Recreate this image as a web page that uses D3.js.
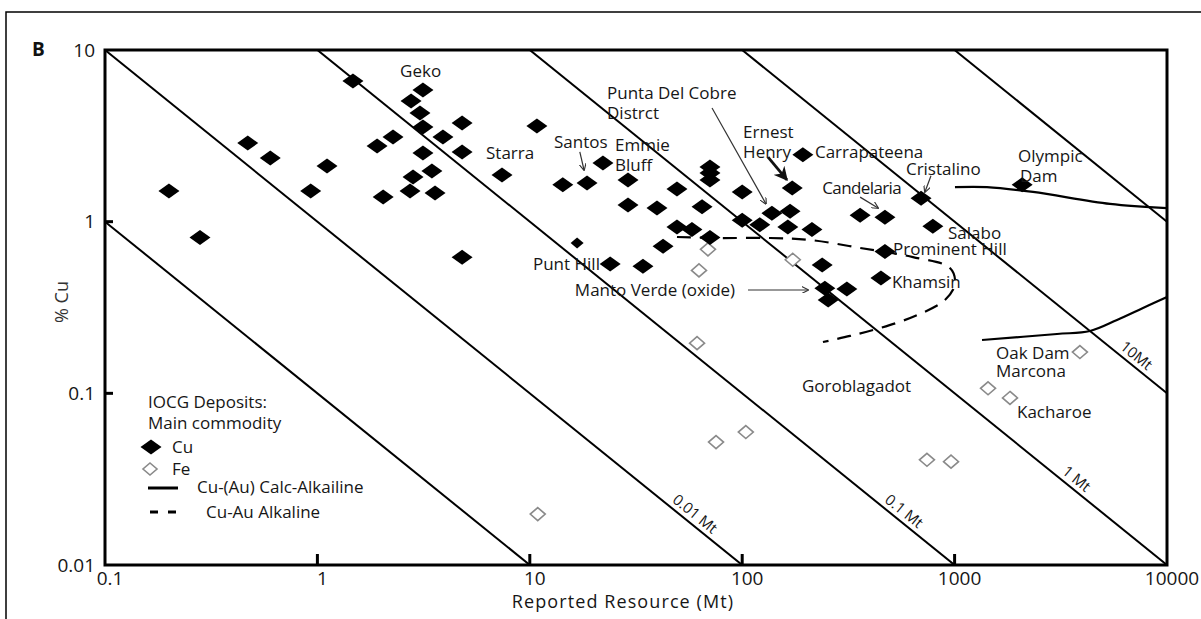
<!DOCTYPE html>
<html>
<head>
<meta charset="utf-8">
<script src="https://cdn.jsdelivr.net/npm/d3@7"></script>
<style>
  html, body { margin: 0; padding: 0; background: #fff; }
  svg { display: block; font-family: "Open Sans", sans-serif; }
</style>
</head>
<body>
<svg id="chart" width="1201" height="619"></svg>
<script>
// ---- data: [reported resource (Mt), % Cu] ----
const cuDeposits = [
  [0.2, 1.51], [0.28, 0.81], [0.47, 2.87], [0.6, 2.35], [0.93, 1.51], [1.11, 2.11],
  [1.47, 6.6], [1.91, 2.76], [2.27, 3.11], [2.04, 1.39], [2.76, 5.05], [3.14, 5.85],
  [3.04, 4.3], [3.14, 3.56], [2.82, 1.82], [2.73, 1.51], [3.9, 3.11], [4.8, 3.76],
  [3.14, 2.51], [4.8, 2.55], [3.46, 1.97], [3.58, 1.47], [10.8, 3.61], [7.4, 1.87],
  [4.8, 0.62], [14.3, 1.64], [18.6, 1.68], [22.1, 2.2], [29, 1.75], [29, 1.25],
  [39.7, 1.2], [49.3, 1.55], [23.9, 0.567], [34.1, 0.55], [42.4, 0.72], [49.3, 0.93],
  [58, 0.9], [70.5, 0.81], [64.7, 1.22], [70.5, 2.08], [70.5, 1.92], [70.5, 1.75],
  [100, 1.49], [100, 1.02], [121, 0.96], [138, 1.12], [168, 1.15], [172, 1.57],
  [164, 0.93], [213, 0.9], [193, 2.45], [238, 0.56], [245, 0.41], [311, 0.405],
  [254, 0.35], [359, 1.09], [470, 1.06], [470, 0.67], [450, 0.47], [695, 1.37],
  [790, 0.94], [2080, 1.64]
];
const cuSmall = [[16.7, 0.75]];

const feDeposits = [
  [10.9, 0.0198], [61.3, 0.196], [62.6, 0.52], [69, 0.69], [75.3, 0.052], [104, 0.0595],
  [173, 0.6], [741, 0.041], [962, 0.04], [1437, 0.107], [1823, 0.094], [3890, 0.174]
];

// Cu-(Au) calc-alkaline field outline (two branches)
const calcAlkalineUpper = [[1004, 1.59], [1421, 1.59], [2340, 1.49], [5390, 1.27], [10000, 1.2]];
const calcAlkalineLower = [[1346, 0.2045], [3035, 0.2217], [4340, 0.2308], [5815, 0.2675], [7709, 0.314], [10000, 0.364]];

// Cu-Au alkaline field outline
const alkalineField = [
  [49.3, 0.814], [78.6, 0.803], [135, 0.803], [209, 0.782], [359, 0.703], [637, 0.622],
  [951, 0.537], [1004, 0.434], [901, 0.35], [651, 0.282], [445, 0.24], [322, 0.216], [240, 0.199]
];

// contained metal lines (Mt Cu)
const tonnages = [0.001, 0.01, 0.1, 1, 10, 100];
const tonnageLabels = [
  { t: 0.01, text: "0.01 Mt", at: 56 },
  { t: 0.1, text: "0.1 Mt", at: 540 },
  { t: 1, text: "1 Mt", at: 3500 },
  { t: 10, text: "10Mt", at: 6700 }
];

const xTicks = [0.1, 1, 10, 100, 1000, 10000];
const yTicks = [0.01, 0.1, 1, 10];

// deposit names, anchored in data space
const depositLabels = [
  ["Geko", 2.45, 6.96], ["Starra", 6.22, 2.32], ["Santos", 13.0, 2.69],
  ["Emmie", 25.2, 2.58], ["Bluff", 25.2, 1.97], ["Punta Del Cobre", 23.1, 5.18],
  ["Distrct", 23.1, 3.96], ["Ernest", 101, 3.07], ["Henry", 101, 2.35],
  ["Carrapateena", 220, 2.35], ["Cristalino", 590, 1.87], ["Candelaria", 238, 1.45],
  ["Olympic", 1988, 2.23], ["Dam", 2032, 1.70], ["Salabo", 931, 0.793],
  ["Prominent Hill", 513, 0.639], ["Khamsin", 507, 0.411], ["Punt Hill", 10.35, 0.523],
  ["Manto Verde (oxide)", 16.3, 0.369], ["Goroblagadot", 191, 0.1018],
  ["Oak Dam", 1567, 0.1585], ["Marcona", 1567, 0.1245], ["Kacharoe", 1967, 0.0718]
];

const arrows = [
  { from: [17.2, 2.55], to: [18.0, 2.0], heavy: false },
  { from: [72.1, 4.59], to: [129.4, 1.27], heavy: false },
  { from: [132.3, 2.38], to: [162.5, 1.75], heavy: true },
  { from: [774, 1.85], to: [725, 1.49], heavy: false },
  { from: [359, 1.39], to: [436, 1.2], heavy: false },
  { from: [106.5, 0.40], to: [204, 0.40], heavy: false }
];

// ---- layout ----
const margin = { left: 105, top: 50, right: 34, bottom: 54 };
const W = 1201, H = 619;
const svg = d3.select("#chart");

const x = d3.scaleLog().domain([0.1, 10000]).range([margin.left, W - margin.right]);
const y = d3.scaleLog().domain([0.01, 10]).range([H - margin.bottom, margin.top]);

const textColor = "#161616";

// outer frame
svg.append("rect")
  .attr("x", 6).attr("y", 12)
  .attr("width", 1205).attr("height", 625)
  .attr("fill", "none").attr("stroke", "#000").attr("stroke-width", 1.5);

svg.append("text")
  .attr("x", 32).attr("y", 56)
  .attr("font-size", 19).attr("font-weight", "bold")
  .attr("fill", "#111")
  .text("B");

const defs = svg.append("defs");
defs.append("clipPath").attr("id", "plot-clip")
  .append("rect")
  .attr("x", x(0.1)).attr("y", y(10))
  .attr("width", x(10000) - x(0.1)).attr("height", y(0.01) - y(10));

defs.append("marker").attr("id", "arrow-thin")
  .attr("viewBox", "0 0 10 10").attr("refX", 9).attr("refY", 5)
  .attr("markerWidth", 7).attr("markerHeight", 7).attr("markerUnits", "userSpaceOnUse")
  .attr("orient", "auto")
  .append("path").attr("d", "M0,0L10,5L0,10").attr("fill", "none").attr("stroke", "#333").attr("stroke-width", 1.6);
defs.append("marker").attr("id", "arrow-heavy")
  .attr("viewBox", "0 0 10 10").attr("refX", 9).attr("refY", 5)
  .attr("markerWidth", 14).attr("markerHeight", 14).attr("markerUnits", "userSpaceOnUse")
  .attr("orient", "auto")
  .append("path").attr("d", "M0,0L10,5L0,10L3,5Z").attr("fill", "#111");

const plot = svg.append("g").attr("clip-path", "url(#plot-clip)");

// tonnage lines: %Cu = 100 * T / resource
const line = d3.line().x(d => x(d[0])).y(d => y(d[1]));
plot.selectAll("path.tonnage")
  .data(tonnages)
  .join("path")
  .attr("class", "tonnage")
  .attr("d", t => line([[0.05, 100 * t / 0.05], [20000, 100 * t / 20000]]))
  .attr("fill", "none").attr("stroke", "#000").attr("stroke-width", 2);

// calc-alkaline field
const smooth = d3.line().x(d => x(d[0])).y(d => y(d[1])).curve(d3.curveCatmullRom.alpha(0.5));
plot.selectAll("path.calc")
  .data([calcAlkalineUpper, calcAlkalineLower])
  .join("path")
  .attr("class", "calc")
  .attr("d", smooth)
  .attr("fill", "none").attr("stroke", "#000").attr("stroke-width", 2.2);

// alkaline field (dashed)
plot.append("path")
  .datum(alkalineField)
  .attr("d", smooth)
  .attr("fill", "none").attr("stroke", "#000").attr("stroke-width", 2.2)
  .attr("stroke-dasharray", "14,9");

const diamond = (w, h) => `M0,${-h / 2}L${w / 2},0L0,${h / 2}L${-w / 2},0Z`;

// Fe deposits
svg.append("g").selectAll("path")
  .data(feDeposits)
  .join("path")
  .attr("d", diamond(15, 13))
  .attr("transform", d => `translate(${x(d[0])},${y(d[1])})`)
  .attr("fill", "#fff").attr("stroke", "#8a8a8a").attr("stroke-width", 1.6);

// Cu deposits
svg.append("g").selectAll("path")
  .data(cuDeposits)
  .join("path")
  .attr("d", diamond(21, 15))
  .attr("transform", d => `translate(${x(d[0])},${y(d[1])})`)
  .attr("fill", "#000");
svg.append("g").selectAll("path")
  .data(cuSmall)
  .join("path")
  .attr("d", diamond(13, 11))
  .attr("transform", d => `translate(${x(d[0])},${y(d[1])})`)
  .attr("fill", "#000");

// tonnage line labels
const angle = Math.atan2(y(0.1) - y(1), x(10) - x(1)) * 180 / Math.PI;
svg.append("g").selectAll("text")
  .data(tonnageLabels)
  .join("text")
  .attr("transform", d => `translate(${x(d.at)},${y(100 * d.t / d.at)}) rotate(${angle})`)
  .attr("y", -5)
  .attr("text-anchor", "middle")
  .attr("font-size", 15)
  .attr("fill", textColor)
  .text(d => d.text);

// arrows
svg.append("g").selectAll("line")
  .data(arrows)
  .join("line")
  .attr("x1", d => x(d.from[0])).attr("y1", d => y(d.from[1]))
  .attr("x2", d => x(d.to[0])).attr("y2", d => y(d.to[1]))
  .attr("stroke", d => d.heavy ? "#111" : "#333")
  .attr("stroke-width", d => d.heavy ? 2.8 : 1.2)
  .attr("marker-end", d => d.heavy ? "url(#arrow-heavy)" : "url(#arrow-thin)");

// deposit labels
svg.append("g").selectAll("text")
  .data(depositLabels)
  .join("text")
  .attr("x", d => x(d[1]))
  .attr("y", d => y(d[2]))
  .attr("font-size", 17)
  .attr("fill", textColor)
  .attr("letter-spacing", d => d[0] === "Candelaria" ? -0.6 : 0)
  .text(d => d[0]);

// frame of plot area
svg.append("rect")
  .attr("x", x(0.1)).attr("y", y(10))
  .attr("width", x(10000) - x(0.1)).attr("height", y(0.01) - y(10))
  .attr("fill", "none").attr("stroke", "#000").attr("stroke-width", 3);

// ticks (inside) and labels
svg.append("g").selectAll("line")
  .data(xTicks.slice(1, -1))
  .join("line")
  .attr("x1", d => x(d)).attr("x2", d => x(d))
  .attr("y1", y(0.01)).attr("y2", y(0.01) - 11)
  .attr("stroke", "#000").attr("stroke-width", 3);
svg.append("g").selectAll("line")
  .data(yTicks.slice(1, -1))
  .join("line")
  .attr("x1", x(0.1)).attr("x2", x(0.1) + 8)
  .attr("y1", d => y(d)).attr("y2", d => y(d))
  .attr("stroke", "#000").attr("stroke-width", 3);

svg.append("g").selectAll("text")
  .data(xTicks)
  .join("text")
  .attr("x", d => x(d) + 5)
  .attr("y", y(0.01) + 20)
  .attr("text-anchor", "middle")
  .attr("font-size", 19)
  .attr("fill", textColor)
  .text(d => d3.format("~g")(d));

svg.append("g").selectAll("text")
  .data(yTicks)
  .join("text")
  .attr("x", x(0.1) - 10)
  .attr("y", d => y(d))
  .attr("dy", "0.35em")
  .attr("text-anchor", "end")
  .attr("font-size", 19)
  .attr("fill", textColor)
  .text(d => d3.format("~g")(d));

// axis titles
svg.append("text")
  .attr("x", 623).attr("y", 608)
  .attr("text-anchor", "middle")
  .attr("font-size", 18)
  .attr("letter-spacing", 1.1)
  .attr("fill", textColor)
  .text("Reported Resource (Mt)");

svg.append("text")
  .attr("transform", "translate(68,302) rotate(-90)")
  .attr("text-anchor", "middle")
  .attr("font-size", 18)
  .attr("fill", "#333")
  .text("% Cu");

// legend
const legend = svg.append("g").attr("transform", "translate(148,0)");
legend.append("text").attr("x", 0).attr("y", 408).attr("font-size", 17).attr("fill", textColor).text("IOCG Deposits:");
legend.append("text").attr("x", 0).attr("y", 429).attr("font-size", 17).attr("fill", textColor).text("Main commodity");
legend.append("path").attr("d", diamond(21, 15)).attr("transform", "translate(3,447)").attr("fill", "#000");
legend.append("text").attr("x", 24).attr("y", 453).attr("font-size", 17).attr("fill", textColor).text("Cu");
legend.append("path").attr("d", diamond(14, 12)).attr("transform", "translate(2,469)")
  .attr("fill", "#fff").attr("stroke", "#8a8a8a").attr("stroke-width", 1.6);
legend.append("text").attr("x", 24).attr("y", 475).attr("font-size", 17).attr("fill", textColor).text("Fe");
legend.append("line").attr("x1", 0).attr("x2", 30).attr("y1", 488).attr("y2", 488)
  .attr("stroke", "#000").attr("stroke-width", 3);
legend.append("text").attr("x", 49).attr("y", 493).attr("font-size", 17).attr("fill", textColor).text("Cu-(Au) Calc-Alkailine");
legend.append("line").attr("x1", 2).attr("x2", 30).attr("y1", 512).attr("y2", 512)
  .attr("stroke", "#000").attr("stroke-width", 3).attr("stroke-dasharray", "8,10");
legend.append("text").attr("x", 58).attr("y", 518).attr("font-size", 17).attr("fill", textColor).text("Cu-Au Alkaline");
</script>
</body>
</html>
